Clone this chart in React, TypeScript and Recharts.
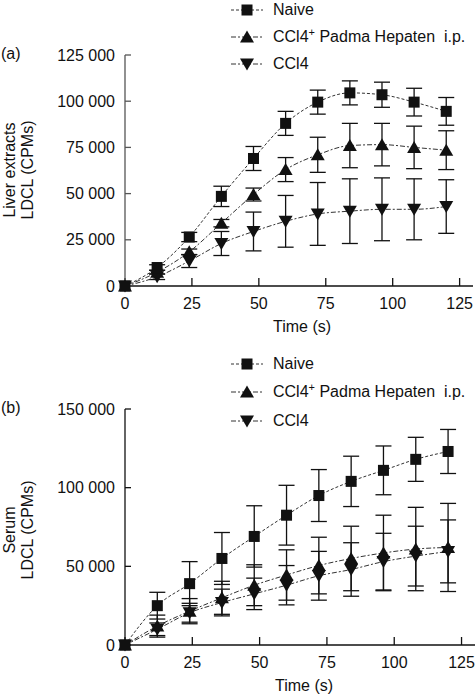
import React from 'react'
import { LineChart, Line, XAxis, YAxis, ErrorBar } from 'recharts'

// sampling times (s)
const time = [0, 12, 24, 36, 48, 60, 72, 84, 96, 108, 120]

// (a) liver extracts
const liverNaive = [0, 10000, 26500, 48500, 69000, 88000, 99500, 104500, 103500, 99500, 94500]
const liverNaiveErr = [0, 1500, 2500, 5500, 6500, 6500, 6500, 6500, 6800, 7500, 7500]
const liverPadma = [0, 7500, 18500, 34000, 49500, 63000, 71000, 76000, 76500, 75000, 73500]
const liverPadmaErr = [0, 1000, 1500, 2000, 3500, 6500, 9500, 12000, 11500, 11500, 10500]
const liverCcl4 = [0, 5000, 13500, 23000, 29500, 35000, 39000, 40500, 41500, 41500, 43000]
const liverCcl4Err = [0, 1500, 3500, 6500, 10500, 14000, 17000, 17500, 17000, 16500, 14500]

// (b) serum
const serumNaive = [0, 25000, 39000, 55000, 69000, 82500, 95000, 104000, 111000, 118000, 123000]
const serumNaiveErr = [0, 8500, 14000, 16500, 19500, 19000, 16500, 16000, 15500, 14000, 14000]
const serumPadma = [0, 12000, 21500, 30000, 38000, 44500, 50500, 55000, 58500, 61000, 62000]
const serumPadmaErr = [0, 7000, 8000, 10500, 13000, 16000, 18000, 20500, 24000, 26500, 28000]
const serumCcl4 = [0, 10000, 20500, 27000, 32500, 38000, 44000, 48000, 53000, 56500, 59500]
const serumCcl4Err = [0, 4000, 6000, 8500, 10000, 12500, 15500, 17000, 18000, 19000, 20000]

const xTicks = [0, 25, 50, 75, 100, 125]
const liverTicks = [0, 25000, 50000, 75000, 100000, 125000]
const serumTicks = [0, 50000, 100000, 150000]

const FONT = '"Liberation Sans", Arial, Helvetica, sans-serif'
const INK = '#111'

type Kind = 'square' | 'up' | 'down'

const seriesStyle: { key: string; kind: Kind; dash: string }[] = [
  { key: 'padma', kind: 'up', dash: '5 2 2 2' },
  { key: 'ccl4', kind: 'down', dash: '5 2 2 2' },
  { key: 'naive', kind: 'square', dash: '3 2' },
]

function Marker({ kind, cx, cy }: { kind: Kind; cx: number; cy: number }) {
  if (kind === 'square') {
    return <rect x={cx - 5.5} y={cy - 5.5} width={11} height={11} fill={INK} />
  }
  if (kind === 'up') {
    return <polygon points={`${cx},${cy - 6.5} ${cx - 7},${cy + 5.5} ${cx + 7},${cy + 5.5}`} fill={INK} />
  }
  return <polygon points={`${cx - 7},${cy - 5.5} ${cx + 7},${cy - 5.5} ${cx},${cy + 6.5}`} fill={INK} />
}

const fmtY = (v: number) => (v === 0 ? '0' : `${v / 1000} 000`)

function buildData(naive: number[], naiveErr: number[], padma: number[], padmaErr: number[], ccl4: number[], ccl4Err: number[]) {
  return time.map((t, i) => ({
    t,
    naive: naive[i],
    naiveErr: naiveErr[i],
    padma: padma[i],
    padmaErr: padmaErr[i],
    ccl4: ccl4[i],
    ccl4Err: ccl4Err[i],
  }))
}

const liverData = buildData(liverNaive, liverNaiveErr, liverPadma, liverPadmaErr, liverCcl4, liverCcl4Err)
const serumData = buildData(serumNaive, serumNaiveErr, serumPadma, serumPadmaErr, serumCcl4, serumCcl4Err)

interface PanelProps {
  data: ReturnType<typeof buildData>
  height: number
  top: number
  right: number
  xHeight: number
  yMax: number
  yTicks: number[]
  yAxisColor: string
}

function Panel({ data, height, top, right, xHeight, yMax, yTicks, yAxisColor }: PanelProps) {
  const tick = { fontSize: 16, fill: INK, fontFamily: FONT }
  return (
    <LineChart width={476} height={height} data={data} margin={{ top, right, left: 0, bottom: 0 }}>
      <XAxis
        dataKey="t"
        type="number"
        domain={[0, 130]}
        ticks={xTicks}
        height={xHeight}
        tickSize={-8}
        tickMargin={20}
        tick={tick}
        axisLine={{ stroke: INK, strokeWidth: 1.3 }}
        tickLine={{ stroke: INK, strokeWidth: 1.3 }}
      />
      <YAxis
        type="number"
        domain={[0, yMax]}
        ticks={yTicks}
        width={125}
        tickSize={-6}
        tickMargin={16}
        tickFormatter={fmtY}
        tick={tick}
        axisLine={{ stroke: yAxisColor, strokeWidth: 1.3 }}
        tickLine={{ stroke: yAxisColor, strokeWidth: 1.3 }}
      />
      {seriesStyle.map((s) => (
        <Line
          key={s.key}
          dataKey={s.key}
          type="monotone"
          stroke="#333"
          strokeWidth={1}
          strokeDasharray={s.dash}
          isAnimationActive={false}
          activeDot={false}
          dot={(p: any) => <Marker key={`${s.key}-${p.index}`} kind={s.kind} cx={p.cx} cy={p.cy} />}
        >
          <ErrorBar
            dataKey={`${s.key}Err`}
            direction="y"
            width={8}
            stroke={INK}
            strokeWidth={1.3}
            isAnimationActive={false}
          />
        </Line>
      ))}
    </LineChart>
  )
}

function Swatch({ kind, dash }: { kind: Kind; dash: string }) {
  return (
    <svg width={32} height={14} style={{ position: 'absolute', left: 0, top: -7 }}>
      <line x1={0} y1={7} x2={32} y2={7} stroke="#333" strokeWidth={1} strokeDasharray={dash} />
      <Marker kind={kind} cx={16} cy={7} />
    </svg>
  )
}

const legendNames: { kind: Kind; dash: string; label: React.ReactNode }[] = [
  { kind: 'square', dash: '3 2', label: 'Naive' },
  {
    kind: 'up',
    dash: '5 2 2 2',
    label: (
      <>
        CCl4<span style={{ fontSize: 11, position: 'relative', top: -6 }}>+</span> Padma Hepaten{'\u00a0\u00a0'}i.p.
      </>
    ),
  },
  { kind: 'down', dash: '5 2 2 2', label: 'CCl4' },
]

function Legend({ rows }: { rows: number[] }) {
  return (
    <>
      {legendNames.map((l, i) => (
        <div key={i} style={{ position: 'absolute', left: 231, top: rows[i], height: 0 }}>
          <Swatch kind={l.kind} dash={l.dash} />
          <div
            style={{
              position: 'absolute',
              left: 42,
              top: -10,
              lineHeight: '20px',
              fontSize: 16,
              whiteSpace: 'nowrap',
              color: INK,
            }}
          >
            {l.label}
          </div>
        </div>
      ))}
    </>
  )
}

const abs = (left: number, top: number): React.CSSProperties => ({
  position: 'absolute',
  left,
  top,
  fontSize: 16,
  color: INK,
  whiteSpace: 'nowrap',
})

function YLabel({ cx, cy, lines }: { cx: number; cy: number; lines: string[] }) {
  return (
    <div
      style={{
        position: 'absolute',
        left: cx,
        top: cy,
        transform: 'translate(-50%, -50%) rotate(-90deg)',
        textAlign: 'center',
        lineHeight: '18px',
        fontSize: 16,
        color: INK,
        whiteSpace: 'nowrap',
      }}
    >
      {lines.map((l) => (
        <div key={l}>{l}</div>
      ))}
    </div>
  )
}

export default function App() {
  return (
    <div
      style={{
        position: 'absolute',
        left: 0,
        top: 0,
        width: 476,
        height: 695,
        background: '#fff',
        fontFamily: FONT,
        overflow: 'hidden',
      }}
    >
      <div style={{ position: 'absolute', left: 0, top: 0 }}>
        <Panel data={liverData} height={340} top={55} right={3} xHeight={54} yMax={125000} yTicks={liverTicks} yAxisColor="#555" />
      </div>
      <div style={{ position: 'absolute', left: 0, top: 340 }}>
        <Panel data={serumData} height={355} top={69} right={1} xHeight={50} yMax={150000} yTicks={serumTicks} yAxisColor={INK} />
      </div>

      <Legend rows={[10, 37, 64]} />
      <Legend rows={[364, 392, 421]} />

      <div style={{ ...abs(1, 44), lineHeight: '20px' }}>(a)</div>
      <div style={{ ...abs(1, 398), lineHeight: '20px' }}>(b)</div>

      <YLabel cx={19} cy={170} lines={['Liver extracts', 'LDCL (CPMs)']} />
      <YLabel cx={19} cy={530} lines={['Serum', 'LDCL (CPMs)']} />

      <div style={{ ...abs(273, 317), lineHeight: '20px' }}>Time (s)</div>
      <div style={{ ...abs(275, 676), lineHeight: '20px' }}>Time (s)</div>
    </div>
  )
}
